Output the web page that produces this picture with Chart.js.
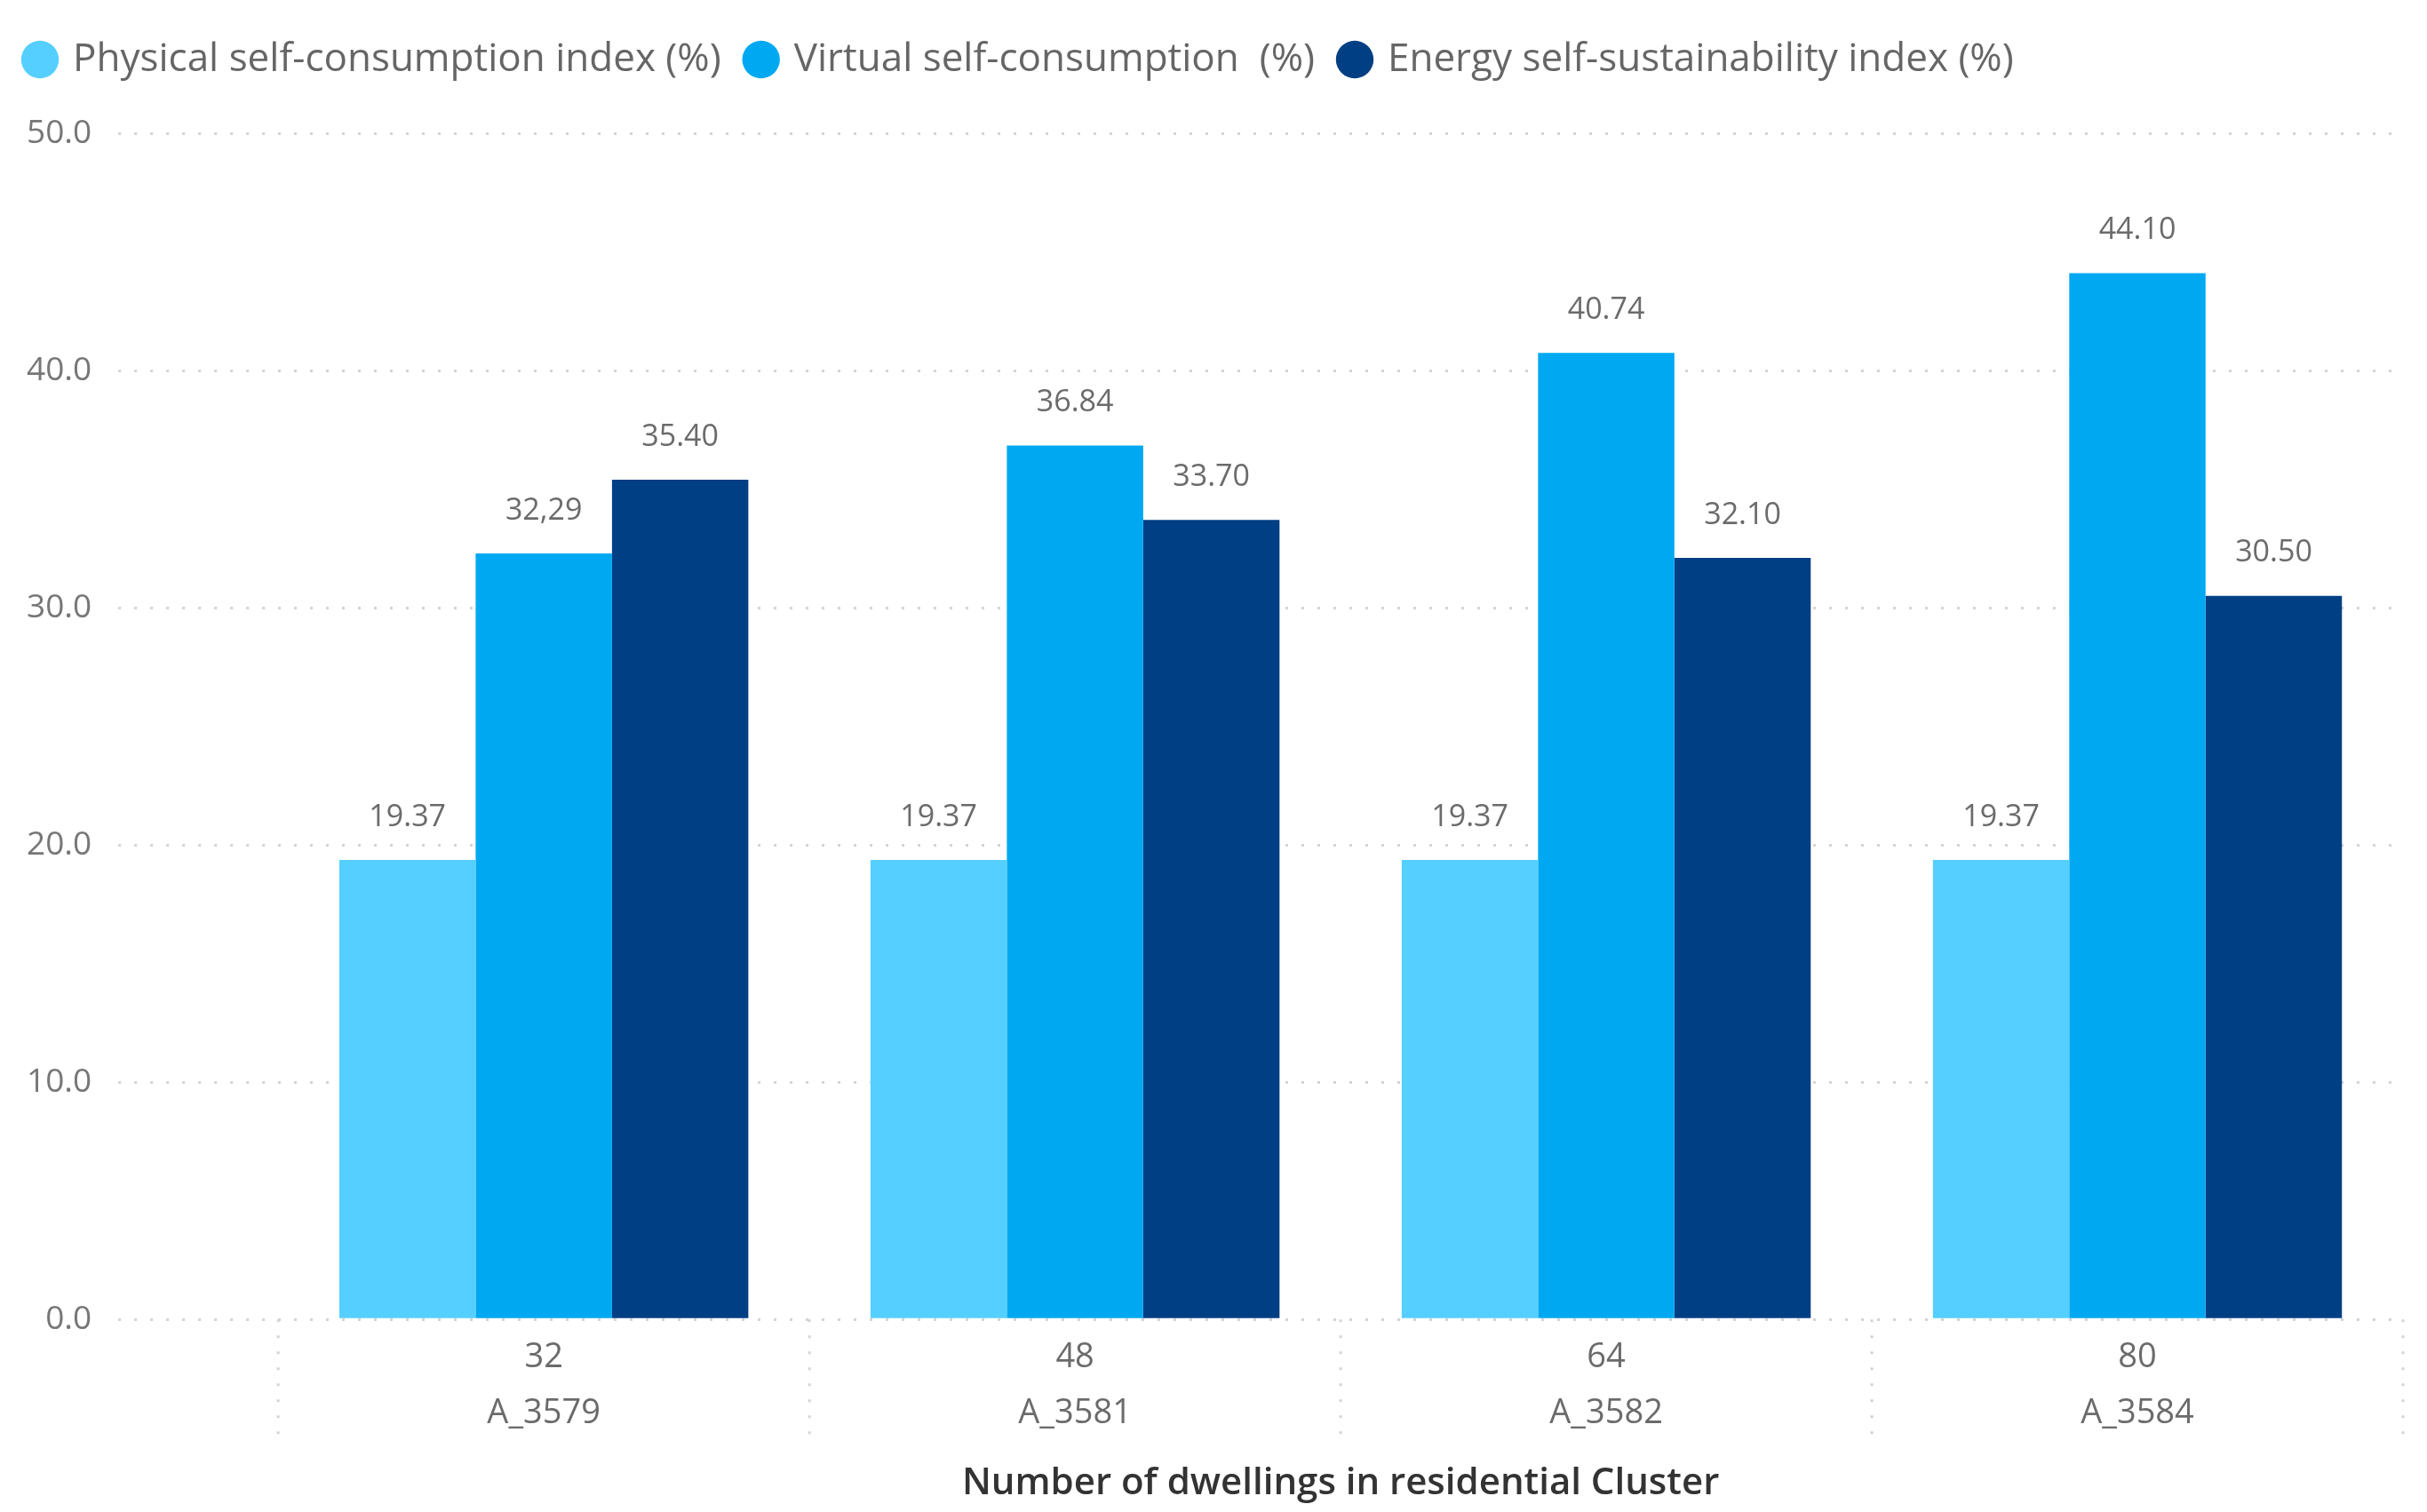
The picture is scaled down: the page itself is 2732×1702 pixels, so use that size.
<!DOCTYPE html>
<html>
<head>
<meta charset="utf-8">
<script src="https://cdn.jsdelivr.net/npm/chart.js@4.4.0/dist/chart.umd.min.js"></script>
<style>
  html, body { margin: 0; padding: 0; background: #fff; }
</style>
</head>
<body>
<canvas id="clusterChart" width="2732" height="1702"></canvas>
<script>
// dados
const dwellings = ['32', '48', '64', '80'];
const clusters = ['A_3579', 'A_3581', 'A_3582', 'A_3584'];
const physicalIndex = [19.37, 19.37, 19.37, 19.37];
const virtualIndex = [32.29, 36.84, 40.74, 44.10];
const sustainIndex = [35.40, 33.70, 32.10, 30.50];
// o original escreve "32,29" com vírgula
const virtualText = ['32,29', '36.84', '40.74', '44.10'];
const seriesNames = ['Physical self-consumption index (%)', 'Virtual self-consumption  (%)', 'Energy self-sustainability index (%)'];

const FONT = '"Open Sans", "Noto Sans", sans-serif';
const GRID = '#d4d4d4';

// espaço extra entre a legenda e o gráfico
const legendMargin = {
    id: 'legendMargin',
    beforeInit(chart) {
        const fit = chart.legend.fit;
        chart.legend.fit = function () {
            fit.bind(chart.legend)();
            this.height += 51;
        };
    }
};

// rótulos de valor por cima das barras
const valueLabels = {
    id: 'valueLabels',
    afterDatasetsDraw(chart) {
        const c = chart.ctx;
        c.save();
        c.font = '34px ' + FONT;
        c.fillStyle = '#6b6b6b';
        c.textAlign = 'center';
        c.textBaseline = 'middle';
        chart.data.datasets.forEach((ds, i) => {
            chart.getDatasetMeta(i).data.forEach((bar, j) => {
                const txt = ds.valueText ? ds.valueText[j] : ds.data[j].toFixed(2);
                c.fillText(txt, bar.x, bar.y - 48);
            });
        });
        c.restore();
    }
};

// separadores pontilhados entre categorias, abaixo do eixo
const categoryDividers = {
    id: 'categoryDividers',
    afterDraw(chart) {
        const x = chart.scales.x;
        const area = chart.chartArea;
        const c = chart.ctx;
        const n = chart.data.labels.length;
        const xs = [area.left];
        for (let i = 0; i < n - 1; i++) {
            xs.push((x.getPixelForTick(i) + x.getPixelForTick(i + 1)) / 2);
        }
        xs.push(area.right);
        c.save();
        c.strokeStyle = GRID;
        c.lineWidth = 3;
        c.setLineDash([3, 15]);
        xs.forEach(px => {
            c.beginPath();
            c.moveTo(px, area.bottom);
            c.lineTo(px, area.bottom + 136);
            c.stroke();
        });
        c.restore();
    }
};

const labels = dwellings.map((d, i) => [d, clusters[i]]);

const ctx = document.getElementById('clusterChart').getContext('2d');
const clusterChart = new Chart(ctx, {
    type: 'bar',
    data: {
        labels: labels,
        datasets: [{
            label: seriesNames[0],
            data: physicalIndex,
            backgroundColor: '#55cfff'
        }, {
            label: seriesNames[1],
            data: virtualIndex,
            valueText: virtualText,
            backgroundColor: '#00a8f2'
        }, {
            label: seriesNames[2],
            data: sustainIndex,
            backgroundColor: '#003f84'
        }]
    },
    options: {
        responsive: false,
        animation: false,
        devicePixelRatio: 1,
        datasets: {
            bar: {
                barPercentage: 1.0,
                categoryPercentage: 0.77,
                borderWidth: 0
            }
        },
        layout: {
            padding: { top: 15, left: 0, right: 27, bottom: 7 }
        },
        plugins: {
            legend: {
                align: 'start',
                labels: {
                    usePointStyle: true,
                    pointStyle: 'circle',
                    boxWidth: 30,
                    boxHeight: 30,
                    padding: 30,
                    color: '#666',
                    font: { family: FONT, size: 44 }
                }
            },
            tooltip: { enabled: false }
        },
        scales: {
            y: {
                min: 0,
                max: 50,
                ticks: {
                    stepSize: 10,
                    padding: 30,
                    color: '#777',
                    font: { family: FONT, size: 37 },
                    callback: v => v.toFixed(1)
                },
                grid: {
                    color: GRID,
                    lineWidth: 3,
                    drawTicks: true,
                    tickLength: 180,
                    tickColor: GRID,
                    tickWidth: 3,
                    tickBorderDash: [3, 15]
                },
                border: { display: false, dash: [3, 15] }
            },
            x: {
                ticks: {
                    padding: 4,
                    color: '#6b6b6b',
                    font: { family: FONT, size: 38, lineHeight: 1.65 }
                },
                grid: { display: false },
                border: { display: false },
                title: {
                    display: true,
                    text: 'Number of dwellings in residential Cluster',
                    color: '#333',
                    padding: { top: 18, bottom: 0 },
                    font: { family: FONT, size: 42, weight: '600' }
                }
            }
        }
    },
    plugins: [legendMargin, valueLabels, categoryDividers]
});
</script>
</body>
</html>
